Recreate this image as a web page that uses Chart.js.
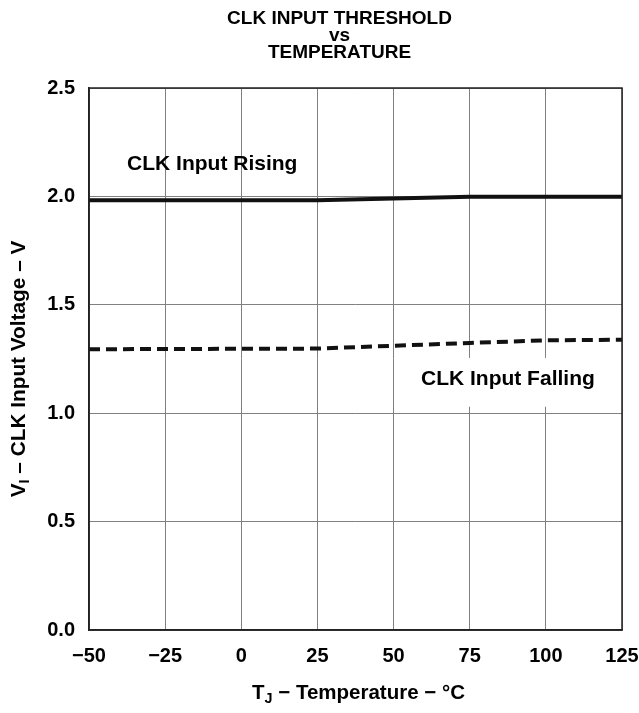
<!DOCTYPE html>
<html>
<head>
<meta charset="utf-8">
<script src="https://cdn.jsdelivr.net/npm/chart.js@4/dist/chart.umd.min.js"></script>
<style>
  html, body { margin: 0; padding: 0; background: #fff; }
  #wrap { width: 639px; height: 713px; }
</style>
</head>
<body>
<div id="wrap"><canvas id="chart" width="639" height="713"></canvas></div>
<script>
// temperature points (°C)
const temps = [-50, -25, 0, 25, 50, 75, 100, 125];
// CLK input threshold (V)
const rising = [1.982, 1.982, 1.982, 1.982, 1.99, 1.998, 1.998, 1.998];
const falling = [1.295, 1.296, 1.297, 1.298, 1.311, 1.324, 1.336, 1.339];
const xTicks = [-50, -25, 0, 25, 50, 75, 100, 125];
const yTicks = [0, 0.5, 1.0, 1.5, 2.0, 2.5];
const titleLines = ['CLK INPUT THRESHOLD', 'vs', 'TEMPERATURE'];

const FONT = '"Liberation Sans", Arial, sans-serif';

// draw text with subscript parts: parts = [[text, isSub], ...]
function drawRich(ctx, parts, x, y, size) {
    let total = 0;
    parts.forEach(p => {
        ctx.font = 'bold ' + (p[1] ? size * 0.7 : size) + 'px ' + FONT;
        total += ctx.measureText(p[0]).width;
    });
    let cx = x - total / 2;
    parts.forEach(p => {
        ctx.font = 'bold ' + (p[1] ? size * 0.7 : size) + 'px ' + FONT;
        ctx.fillText(p[0], cx, p[1] ? y + size * 0.3 : y);
        cx += ctx.measureText(p[0]).width;
    });
}

const annotations = {
    id: 'annotations',
    afterDatasetsDraw(chart) {
        const ctx = chart.ctx;
        const xs = chart.scales.x, ys = chart.scales.y;
        const a = chart.chartArea;
        ctx.save();
        ctx.fillStyle = '#000';
        ctx.textBaseline = 'middle';
        ctx.textAlign = 'left';
        ctx.font = 'bold 21px ' + FONT;
        ctx.fillText('CLK Input Rising', xs.getPixelForValue(-37.5), ys.getPixelForValue(2.15));

        // white box behind the falling label
        const bx = xs.getPixelForValue(50.3);
        const by1 = ys.getPixelForValue(1.255), by2 = ys.getPixelForValue(1.03);
        ctx.fillStyle = '#fff';
        ctx.fillRect(bx, by1, a.right - bx - 2, by2 - by1);
        ctx.fillStyle = '#000';
        ctx.fillText('CLK Input Falling', xs.getPixelForValue(59), ys.getPixelForValue(1.155));

        // plot frame
        ctx.strokeStyle = '#222';
        ctx.lineWidth = 1.5;
        ctx.strokeRect(a.left, a.top, a.right - a.left, a.bottom - a.top);
        ctx.restore();
    },
    afterDraw(chart) {
        const ctx = chart.ctx;
        const a = chart.chartArea;
        ctx.save();
        ctx.fillStyle = '#000';
        ctx.textBaseline = 'middle';
        // title
        ctx.textAlign = 'center';
        ctx.font = 'bold 19px ' + FONT;
        [19, 36, 53].forEach((y, i) => ctx.fillText(titleLines[i], 339.5, y));
        ctx.textAlign = 'left';
        // x axis title
        drawRich(ctx, [['T', false], ['J', true], [' \u2212 Temperature \u2212 \u00B0C', false]], (a.left + a.right) / 2 + 3, 693, 20.5);
        // y axis title
        ctx.translate(19, 369);
        ctx.rotate(-Math.PI / 2);
        drawRich(ctx, [['V', false], ['I', true], [' \u2013 CLK Input Voltage \u2013 V', false]], 0, 0, 20.8);
        ctx.restore();
    }
};

new Chart(document.getElementById('chart').getContext('2d'), {
    type: 'line',
    data: {
        datasets: [{
            label: 'CLK Input Rising',
            data: temps.map((t, i) => ({x: t, y: rising[i]})),
            borderColor: '#111',
            borderWidth: 4,
            pointRadius: 0,
            tension: 0
        }, {
            label: 'CLK Input Falling',
            data: temps.map((t, i) => ({x: t, y: falling[i]})),
            borderColor: '#111',
            borderWidth: 4,
            borderDash: [11, 6],
            pointRadius: 0,
            tension: 0
        }]
    },
    options: {
        responsive: false,
        animation: false,
        layout: {padding: {left: 0, right: 17, top: 88, bottom: 0}},
        plugins: {
            legend: {display: false},
            tooltip: {enabled: false},
            title: {display: false}
        },
        scales: {
            x: {
                type: 'linear',
                min: -50, max: 125,
                afterBuildTicks: s => { s.ticks = xTicks.map(v => ({value: v})); },
                afterFit: s => { s.height = 83; s.paddingLeft = 0; s.paddingRight = 0; },
                grid: {color: '#808080', lineWidth: 1, drawTicks: false},
                border: {color: '#222', width: 1.5},
                ticks: {
                    color: '#000',
                    padding: 14,
                    maxRotation: 0,
                    font: {family: FONT, size: 20, weight: 'bold'},
                    callback: v => String(v).replace('-', '\u2212')
                }
            },
            y: {
                min: 0, max: 2.5,
                afterBuildTicks: s => { s.ticks = yTicks.map(v => ({value: v})); },
                afterFit: s => { s.width = 89; s.paddingTop = 0; s.paddingBottom = 0; },
                grid: {color: '#808080', lineWidth: 1, drawTicks: false},
                border: {color: '#222', width: 1.5},
                ticks: {
                    color: '#000',
                    padding: 14,
                    font: {family: FONT, size: 20, weight: 'bold'},
                    callback: v => Number(v).toFixed(1)
                }
            }
        }
    },
    plugins: [annotations]
});
</script>
</body>
</html>
